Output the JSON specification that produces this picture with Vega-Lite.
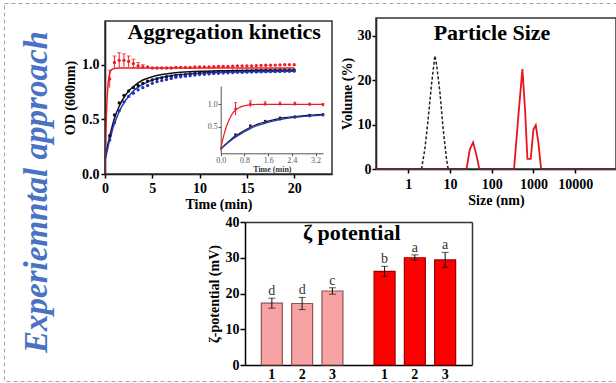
{
 "$schema": "https://vega.github.io/schema/vega-lite/v6.json",
 "width": 612,
 "height": 378,
 "autosize": "none",
 "padding": {"left": 4, "top": 3, "right": 0, "bottom": 2},
 "background": "white",
 "title": {"text": "Experiemntal approach", "orient": "left", "anchor": "middle", "frame": "group", "offset": -76, "font": "Liberation Serif", "fontSize": 33, "fontStyle": "italic", "fontWeight": "bold", "color": "#4a72c4", "baseline": "alphabetic"},
 "config": {
  "font": "Liberation Serif",
  "view": {"stroke": "#9aa6b6", "strokeDash": [4, 3], "strokeWidth": 1},
  "axis": {"grid": false, "labelFlush": false, "labelOverlap": false, "domainColor": "#000", "tickColor": "#000", "domainWidth": 1.5, "tickWidth": 1.5, "tickSize": 4, "labelFont": "Liberation Serif", "labelFontSize": 14, "labelFontWeight": "bold", "labelColor": "#000", "titleFont": "Liberation Serif", "titleFontSize": 14, "titleFontWeight": "bold", "titleColor": "#000"}
 },
 "datasets": {
  "kinFit": [
   {"t": 0, "s1": 0.15, "s2": 0.13, "s3": 0},
   {"t": 0.1, "s1": 0.19, "s2": 0.16, "s3": 0.4},
   {"t": 0.2, "s1": 0.23, "s2": 0.2, "s3": 0.65},
   {"t": 0.3, "s1": 0.27, "s2": 0.24, "s3": 0.8},
   {"t": 0.4, "s1": 0.31, "s2": 0.28, "s3": 0.88},
   {"t": 0.5, "s1": 0.35, "s2": 0.31, "s3": 0.92},
   {"t": 0.6, "s1": 0.38, "s2": 0.34, "s3": 0.945},
   {"t": 0.8, "s1": 0.45, "s2": 0.41, "s3": 0.96},
   {"t": 1, "s1": 0.51, "s2": 0.46, "s3": 0.965},
   {"t": 1.5, "s1": 0.62, "s2": 0.57, "s3": 0.97},
   {"t": 2, "s1": 0.7, "s2": 0.65, "s3": 0.97},
   {"t": 2.5, "s1": 0.76, "s2": 0.71, "s3": 0.97},
   {"t": 3, "s1": 0.8, "s2": 0.76, "s3": 0.97},
   {"t": 4, "s1": 0.86, "s2": 0.82, "s3": 0.97},
   {"t": 5, "s1": 0.89, "s2": 0.86, "s3": 0.97},
   {"t": 6, "s1": 0.91, "s2": 0.885, "s3": 0.97},
   {"t": 7, "s1": 0.922, "s2": 0.9, "s3": 0.97},
   {"t": 8, "s1": 0.93, "s2": 0.91, "s3": 0.97},
   {"t": 10, "s1": 0.94, "s2": 0.922, "s3": 0.97},
   {"t": 12, "s1": 0.945, "s2": 0.93, "s3": 0.97},
   {"t": 15, "s1": 0.948, "s2": 0.936, "s3": 0.97},
   {"t": 20, "s1": 0.95, "s2": 0.94, "s3": 0.97}
  ],
  "kinPts": [
   {"t": 0.5, "s1": 0.35, "s2": 0.31, "s3": 0.87, "lo": 0.79, "hi": 0.95},
   {"t": 1, "s1": 0.54, "s2": 0.47, "s3": 1.02, "lo": 0.96, "hi": 1.08},
   {"t": 1.5, "s1": 0.65, "s2": 0.58, "s3": 1.04, "lo": 0.97, "hi": 1.11},
   {"t": 2, "s1": 0.72, "s2": 0.66, "s3": 1.04, "lo": 0.98, "hi": 1.1},
   {"t": 2.5, "s1": 0.76, "s2": 0.71, "s3": 1.03, "lo": 0.98, "hi": 1.08},
   {"t": 3, "s1": 0.79, "s2": 0.74, "s3": 1.01, "lo": 0.97, "hi": 1.05},
   {"t": 3.5, "s1": 0.81, "s2": 0.77, "s3": 0.99, "lo": 0.96, "hi": 1.02},
   {"t": 4, "s1": 0.83, "s2": 0.79, "s3": 0.98, "lo": 0.96, "hi": 1.0},
   {"t": 4.5, "s1": 0.85, "s2": 0.81, "s3": 0.98},
   {"t": 5, "s1": 0.86, "s2": 0.83, "s3": 0.97},
   {"t": 5.5, "s1": 0.87, "s2": 0.845, "s3": 0.97},
   {"t": 6, "s1": 0.88, "s2": 0.855, "s3": 0.97},
   {"t": 6.5, "s1": 0.89, "s2": 0.865, "s3": 0.97},
   {"t": 7, "s1": 0.895, "s2": 0.875, "s3": 0.97},
   {"t": 7.5, "s1": 0.9, "s2": 0.885, "s3": 0.975},
   {"t": 8, "s1": 0.905, "s2": 0.89, "s3": 0.975},
   {"t": 8.5, "s1": 0.91, "s2": 0.895, "s3": 0.975},
   {"t": 9, "s1": 0.915, "s2": 0.9, "s3": 0.975},
   {"t": 9.5, "s1": 0.92, "s2": 0.905, "s3": 0.98},
   {"t": 10, "s1": 0.925, "s2": 0.91, "s3": 0.98},
   {"t": 10.5, "s1": 0.928, "s2": 0.913, "s3": 0.98},
   {"t": 11, "s1": 0.93, "s2": 0.916, "s3": 0.98},
   {"t": 11.5, "s1": 0.932, "s2": 0.919, "s3": 0.982},
   {"t": 12, "s1": 0.935, "s2": 0.922, "s3": 0.985},
   {"t": 12.5, "s1": 0.937, "s2": 0.924, "s3": 0.985},
   {"t": 13, "s1": 0.939, "s2": 0.926, "s3": 0.985},
   {"t": 13.5, "s1": 0.94, "s2": 0.928, "s3": 0.987},
   {"t": 14, "s1": 0.941, "s2": 0.93, "s3": 0.99},
   {"t": 14.5, "s1": 0.942, "s2": 0.931, "s3": 0.99},
   {"t": 15, "s1": 0.943, "s2": 0.932, "s3": 0.99},
   {"t": 15.5, "s1": 0.944, "s2": 0.933, "s3": 0.99},
   {"t": 16, "s1": 0.945, "s2": 0.934, "s3": 0.992},
   {"t": 16.5, "s1": 0.946, "s2": 0.935, "s3": 0.994},
   {"t": 17, "s1": 0.947, "s2": 0.936, "s3": 0.995},
   {"t": 17.5, "s1": 0.948, "s2": 0.937, "s3": 0.996},
   {"t": 18, "s1": 0.949, "s2": 0.938, "s3": 0.997},
   {"t": 18.5, "s1": 0.95, "s2": 0.939, "s3": 0.998},
   {"t": 19, "s1": 0.95, "s2": 0.94, "s3": 1.0},
   {"t": 19.5, "s1": 0.951, "s2": 0.94, "s3": 1.0},
   {"t": 20, "s1": 0.952, "s2": 0.941, "s3": 1.0}
  ],
  "insetFit": [
   {"t": 0, "s1": 0, "s2": 0, "s3": 0},
   {"t": 0.1, "s1": 0.07, "s2": 0.06, "s3": 0.3},
   {"t": 0.2, "s1": 0.13, "s2": 0.12, "s3": 0.52},
   {"t": 0.3, "s1": 0.19, "s2": 0.17, "s3": 0.68},
   {"t": 0.4, "s1": 0.25, "s2": 0.22, "s3": 0.8},
   {"t": 0.5, "s1": 0.3, "s2": 0.27, "s3": 0.87},
   {"t": 0.6, "s1": 0.34, "s2": 0.31, "s3": 0.92},
   {"t": 0.8, "s1": 0.42, "s2": 0.39, "s3": 0.97},
   {"t": 1, "s1": 0.49, "s2": 0.46, "s3": 0.99},
   {"t": 1.25, "s1": 0.56, "s2": 0.53, "s3": 1.0},
   {"t": 1.5, "s1": 0.61, "s2": 0.58, "s3": 1.0},
   {"t": 2, "s1": 0.69, "s2": 0.66, "s3": 1.0},
   {"t": 2.5, "s1": 0.73, "s2": 0.71, "s3": 1.0},
   {"t": 3, "s1": 0.76, "s2": 0.74, "s3": 1.0},
   {"t": 3.45, "s1": 0.78, "s2": 0.76, "s3": 1.0}
  ],
  "insetPts": [
   {"t": 0.5, "s1": 0.33, "s2": 0.3, "s3": 0.9, "lo": 0.76, "hi": 1.04},
   {"t": 1, "s1": 0.53, "s2": 0.5, "s3": 1.01, "lo": 0.94, "hi": 1.08},
   {"t": 1.5, "s1": 0.63, "s2": 0.6, "s3": 1.01, "lo": 0.96, "hi": 1.06},
   {"t": 2, "s1": 0.7, "s2": 0.67, "s3": 1.01, "lo": 0.97, "hi": 1.05},
   {"t": 2.5, "s1": 0.73, "s2": 0.71, "s3": 1.01, "lo": 0.97, "hi": 1.05},
   {"t": 3, "s1": 0.76, "s2": 0.74, "s3": 1.0, "lo": 0.97, "hi": 1.03},
   {"t": 3.45, "s1": 0.78, "s2": 0.76, "s3": 0.99, "lo": 0.96, "hi": 1.02}
  ],
  "psRed": [
   {"d": 0.17, "v": 0}, {"d": 25, "v": 0}, {"d": 30, "v": 4.4}, {"d": 36, "v": 6}, {"d": 43.7, "v": 2.9}, {"d": 50.6, "v": 0},
   {"d": 344, "v": 0}, {"d": 432, "v": 11.5}, {"d": 545, "v": 22.5}, {"d": 630, "v": 13.4}, {"d": 718, "v": 2.3}, {"d": 863, "v": 2.3},
   {"d": 1000, "v": 8.9}, {"d": 1138, "v": 9.9}, {"d": 1318, "v": 5.9}, {"d": 1528, "v": 0}, {"d": 95000, "v": 0}
  ],
  "psBlack": [
   {"d": 2.09, "v": 0}, {"d": 2.5, "v": 4.3}, {"d": 3.0, "v": 11}, {"d": 3.6, "v": 18.7}, {"d": 4.37, "v": 25.5},
   {"d": 4.8, "v": 23.5}, {"d": 5.75, "v": 17.4}, {"d": 6.9, "v": 9}, {"d": 8.3, "v": 2.2}, {"d": 9.1, "v": 0}
  ],
  "zeta": [
   {"g": "A", "n": "1", "m": 17.3, "lo": 15.9, "hi": 18.7, "L": "d"},
   {"g": "A", "n": "2", "m": 17.2, "lo": 15.5, "hi": 18.9, "L": "d"},
   {"g": "A", "n": "3", "m": 20.7, "lo": 19.8, "hi": 21.6, "L": "c"},
   {"g": "B", "n": "1", "m": 26.2, "lo": 24.8, "hi": 27.6, "L": "b"},
   {"g": "B", "n": "2", "m": 30.0, "lo": 29.3, "hi": 30.8, "L": "a"},
   {"g": "B", "n": "3", "m": 29.4, "lo": 27.3, "hi": 31.5, "L": "a"}
  ]
 },
 "layer": [
  {
   "resolve": {"axis": {"x": "independent", "y": "independent"}},
   "layer": [
    {
     "data": {"name": "kinFit"},
     "transform": [{"fold": ["s1", "s2", "s3"], "as": ["s", "v"]}],
     "mark": {"type": "line", "strokeWidth": 1.5, "interpolate": "monotone"},
     "encoding": {
      "x": {"field": "t", "type": "quantitative", "scale": {"domain": [0, 24], "range": [101, 328], "nice": false, "zero": false}, "axis": {"orient": "bottom", "offset": -207, "values": [0, 5, 10, 15, 20], "format": "d", "title": "Time (min)", "labelPadding": 3, "titlePadding": 2}},
      "y": {"field": "v", "type": "quantitative", "scale": {"domain": [0, 1.4], "range": [171, 18], "nice": false, "zero": false}, "axis": {"orient": "left", "offset": -101, "values": [0, 0.5, 1], "format": ".1f", "title": "OD (600nm)", "labelPadding": 2, "titlePadding": 4}},
      "color": {"field": "s", "type": "nominal", "scale": {"domain": ["s1", "s2", "s3"], "range": ["#111111", "#2233bb", "#ee1c25"]}, "legend": null}
     }
    },
    {
     "data": {"name": "kinPts"},
     "transform": [{"fold": ["s1", "s2", "s3"], "as": ["s", "v"]}],
     "mark": {"type": "point", "filled": true, "size": 11, "opacity": 1},
     "encoding": {
      "x": {"field": "t", "type": "quantitative", "axis": null},
      "y": {"field": "v", "type": "quantitative", "axis": null},
      "color": {"field": "s", "type": "nominal", "legend": null}
     }
    },
    {
     "data": {"name": "kinPts"},
     "transform": [{"filter": "isValid(datum.lo)"}],
     "mark": {"type": "rule", "color": "#ee1c25", "strokeWidth": 1},
     "encoding": {
      "x": {"field": "t", "type": "quantitative", "axis": null},
      "y": {"field": "lo", "type": "quantitative", "axis": null},
      "y2": {"field": "hi"}
     }
    },
    {
     "data": {"name": "kinPts"},
     "transform": [{"filter": "isValid(datum.lo)"}],
     "mark": {"type": "tick", "orient": "horizontal", "size": 4, "thickness": 1, "color": "#ee1c25"},
     "encoding": {
      "x": {"field": "t", "type": "quantitative", "axis": null},
      "y": {"field": "hi", "type": "quantitative", "axis": null}
     }
    },
    {
     "data": {"values": [{}]},
     "mark": {"type": "rect", "fillOpacity": 0, "stroke": "#333333", "strokeWidth": 1.5},
     "encoding": {
      "x": {"datum": 0, "type": "quantitative", "axis": null},
      "x2": {"datum": 24},
      "y": {"datum": 0, "type": "quantitative", "axis": null},
      "y2": {"datum": 1.4}
     }
    },
    {
     "data": {"values": [{}]},
     "mark": {"type": "text", "text": "Aggregation kinetics", "fontSize": 22, "fontWeight": "bold", "align": "center", "baseline": "alphabetic", "color": "#000"},
     "encoding": {
      "x": {"datum": 12.6, "type": "quantitative", "axis": null},
      "y": {"datum": 1.235, "type": "quantitative", "axis": null}
     }
    }
   ]
  },
  {
   "resolve": {"axis": {"x": "independent", "y": "independent"}},
   "layer": [
    {
     "data": {"name": "insetFit"},
     "transform": [{"fold": ["s1", "s2", "s3"], "as": ["s", "v"]}],
     "mark": {"type": "line", "strokeWidth": 1.2, "interpolate": "monotone"},
     "encoding": {
      "x": {"field": "t", "type": "quantitative", "scale": {"domain": [0, 3.45], "range": [216.7, 319], "nice": false, "zero": false}, "axis": {"orient": "bottom", "offset": -227.7, "values": [0, 0.8, 1.6, 2.4, 3.2], "format": ".1f", "title": "Time (min)", "domainColor": "#555", "tickColor": "#555", "domainWidth": 1, "tickWidth": 1, "tickSize": 2.5, "labelFontSize": 8, "labelFontWeight": "normal", "labelColor": "#555", "labelPadding": 1, "titleFontSize": 8, "titleColor": "#333", "titlePadding": 1}},
      "y": {"field": "v", "type": "quantitative", "scale": {"domain": [-0.09, 1.41], "range": [150.3, 83], "nice": false, "zero": false}, "axis": {"orient": "left", "offset": -216.7, "values": [0.5, 1], "format": ".1f", "title": null, "domainColor": "#555", "tickColor": "#555", "domainWidth": 1, "tickWidth": 1, "tickSize": 2.5, "labelFontSize": 8, "labelFontWeight": "normal", "labelColor": "#555", "labelPadding": 1}},
      "color": {"field": "s", "type": "nominal", "legend": null}
     }
    },
    {
     "data": {"name": "insetPts"},
     "transform": [{"fold": ["s1", "s2", "s3"], "as": ["s", "v"]}],
     "mark": {"type": "point", "filled": true, "size": 7, "opacity": 1},
     "encoding": {
      "x": {"field": "t", "type": "quantitative", "axis": null},
      "y": {"field": "v", "type": "quantitative", "axis": null},
      "color": {"field": "s", "type": "nominal", "legend": null}
     }
    },
    {
     "data": {"name": "insetPts"},
     "mark": {"type": "rule", "color": "#ee1c25", "strokeWidth": 1},
     "encoding": {
      "x": {"field": "t", "type": "quantitative", "axis": null},
      "y": {"field": "lo", "type": "quantitative", "axis": null},
      "y2": {"field": "hi"}
     }
    },
    {
     "data": {"name": "insetPts"},
     "mark": {"type": "tick", "orient": "horizontal", "size": 3, "thickness": 1, "color": "#ee1c25"},
     "encoding": {
      "x": {"field": "t", "type": "quantitative", "axis": null},
      "y": {"field": "hi", "type": "quantitative", "axis": null}
     }
    }
   ]
  },
  {
   "resolve": {"axis": {"x": "independent", "y": "independent"}},
   "layer": [
    {
     "data": {"name": "psRed"},
     "mark": {"type": "line", "strokeWidth": 1.8, "color": "#e8141e"},
     "encoding": {
      "x": {"field": "d", "type": "quantitative", "scale": {"type": "log", "domain": [0.17, 95000], "range": [372, 612], "nice": false}, "axis": {"orient": "bottom", "offset": -212, "values": [1, 10, 100, 1000, 10000], "format": "d", "title": "Size (nm)", "labelPadding": 4, "titlePadding": 2}},
      "y": {"field": "v", "type": "quantitative", "scale": {"domain": [0, 34], "range": [166, 15], "nice": false, "zero": false}, "axis": {"orient": "left", "offset": -372, "values": [0, 10, 20, 30], "title": "Volume (%)", "labelPadding": 1, "titlePadding": 3}}
     }
    },
    {
     "data": {"name": "psBlack"},
     "mark": {"type": "line", "strokeWidth": 1.5, "color": "#222222", "strokeDash": [3, 2]},
     "encoding": {
      "x": {"field": "d", "type": "quantitative", "axis": null},
      "y": {"field": "v", "type": "quantitative", "axis": null}
     }
    },
    {
     "data": {"values": [{}]},
     "mark": {"type": "rect", "fillOpacity": 0, "stroke": "#333333", "strokeWidth": 1.5},
     "encoding": {
      "x": {"datum": 0.17, "type": "quantitative", "axis": null},
      "x2": {"datum": 95000},
      "y": {"datum": 0, "type": "quantitative", "axis": null},
      "y2": {"datum": 34}
     }
    },
    {
     "data": {"values": [{}]},
     "mark": {"type": "text", "text": "Particle Size", "fontSize": 22, "fontWeight": "bold", "align": "center", "baseline": "alphabetic", "color": "#000"},
     "encoding": {
      "x": {"datum": 102, "type": "quantitative", "axis": null},
      "y": {"datum": 29.05, "type": "quantitative", "axis": null}
     }
    }
   ]
  },
  {
   "layer": [
    {
     "data": {"name": "zeta"},
     "mark": {"type": "bar", "strokeWidth": 1.2},
     "encoding": {
      "x": {"field": "g", "type": "nominal", "scale": {"domain": ["A", "B"], "range": [241, 468], "paddingInner": 0.2, "paddingOuter": 0.107}, "axis": {"orient": "bottom", "offset": -16, "labels": false, "ticks": false, "title": null}},
      "xOffset": {"field": "n", "type": "nominal", "scale": {"domain": ["1", "2", "3"], "paddingInner": 0.307, "paddingOuter": 0.142}},
      "y": {"field": "m", "type": "quantitative", "scale": {"domain": [0, 40], "range": [362, 219], "nice": false}, "axis": {"orient": "left", "offset": -241, "values": [0, 10, 20, 30, 40], "title": "ζ-potential (mV)", "tickSize": 5, "labelPadding": 1, "titlePadding": 4}},
      "fill": {"field": "g", "type": "nominal", "scale": {"domain": ["A", "B"], "range": ["#f7a3a3", "#ff0000"]}, "legend": null},
      "stroke": {"field": "g", "type": "nominal", "scale": {"domain": ["A", "B"], "range": ["#8a5555", "#9a0000"]}, "legend": null}
     }
    },
    {
     "data": {"name": "zeta"},
     "mark": {"type": "rule", "color": "#111111", "strokeWidth": 1},
     "encoding": {
      "x": {"field": "g", "type": "nominal", "axis": null},
      "xOffset": {"field": "n", "type": "nominal"},
      "y": {"field": "lo", "type": "quantitative", "axis": null},
      "y2": {"field": "hi"}
     }
    },
    {
     "data": {"name": "zeta"},
     "mark": {"type": "tick", "orient": "horizontal", "size": 7, "thickness": 1, "color": "#111111"},
     "encoding": {
      "x": {"field": "g", "type": "nominal", "axis": null},
      "xOffset": {"field": "n", "type": "nominal"},
      "y": {"field": "hi", "type": "quantitative", "axis": null}
     }
    },
    {
     "data": {"name": "zeta"},
     "mark": {"type": "tick", "orient": "horizontal", "size": 7, "thickness": 1, "color": "#111111"},
     "encoding": {
      "x": {"field": "g", "type": "nominal", "axis": null},
      "xOffset": {"field": "n", "type": "nominal"},
      "y": {"field": "lo", "type": "quantitative", "axis": null}
     }
    },
    {
     "data": {"name": "zeta"},
     "mark": {"type": "text", "fontSize": 14, "color": "#333333", "baseline": "alphabetic", "dy": -3},
     "encoding": {
      "x": {"field": "g", "type": "nominal", "axis": {"orient": "top", "offset": -219, "labels": false, "ticks": false, "title": null, "domainColor": "#333"}},
      "xOffset": {"field": "n", "type": "nominal"},
      "y": {"field": "hi", "type": "quantitative", "axis": {"orient": "right", "offset": -144, "labels": false, "ticks": false, "title": null, "domainColor": "#333"}},
      "text": {"field": "L"}
     }
    },
    {
     "data": {"name": "zeta"},
     "mark": {"type": "text", "fontSize": 14, "fontWeight": "bold", "color": "#000", "baseline": "top", "dy": 3},
     "encoding": {
      "x": {"field": "g", "type": "nominal", "axis": null},
      "xOffset": {"field": "n", "type": "nominal"},
      "y": {"datum": 0, "type": "quantitative", "axis": null},
      "text": {"field": "n"}
     }
    },
    {
     "data": {"values": [{}]},
     "mark": {"type": "text", "text": "ζ potential", "fontSize": 22, "fontWeight": "bold", "align": "center", "baseline": "alphabetic", "color": "#000"},
     "encoding": {
      "x": {"datum": "B", "type": "nominal", "bandPosition": -0.2, "axis": null},
      "y": {"datum": 35, "type": "quantitative", "axis": null}
     }
    }
   ]
  }
 ],
 "resolve": {"scale": {"x": "independent", "y": "independent"}, "axis": {"x": "independent", "y": "independent"}}
}
